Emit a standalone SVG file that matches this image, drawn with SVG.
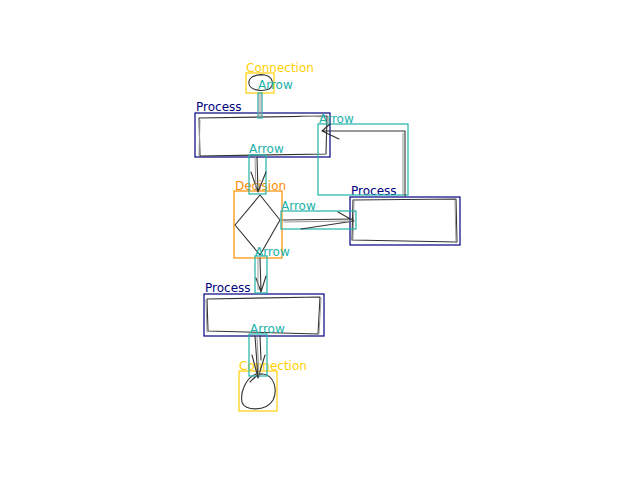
<svg xmlns="http://www.w3.org/2000/svg" width="640" height="480" viewBox="0 0 640 480">
<style>
.lbl{font-family:"DejaVu Sans",sans-serif;font-size:12px}
.proc{fill:none;stroke:#000080;stroke-width:1.2}
.dec{fill:none;stroke:#ff8c00;stroke-width:1.2}
.con{fill:none;stroke:#ffd000;stroke-width:1.2}
.arr{fill:none;stroke:#20b2aa;stroke-width:1.2}
.sk{fill:none;stroke:#333;stroke-width:1.1;stroke-linecap:round;stroke-linejoin:round}
.sk2{fill:none;stroke:#999;stroke-width:1;stroke-linecap:round}
</style>
<rect width="640" height="480" fill="#fff"/>
<g id="connection1">
<rect class="con" x="246" y="73" width="28" height="20"/>
<path class="sk" d="M264,75 C254,74 248,78 249,84 C250,90 262,92 269,89 C274,86 274,77 265,75 C261,74 256,75 252,77"/>
<text class="lbl" x="246" y="72" fill="#ffd000">Connection</text>
</g>
<g id="process1">
<rect class="proc" x="195" y="113" width="135" height="44"/>
<path class="sk" d="M199,118 L327,116 L326,154 L200,156 Z"/>
<path class="sk2" d="M200,120 L199,155 M300,116 L326,117"/>
<text class="lbl" x="196" y="111" fill="#000080">Process</text>
</g>
<g id="decision">
<rect class="dec" x="234" y="191" width="48" height="67"/>
<path class="sk" d="M260,195 L280,220 L260,255 L235,225 Z"/>
<text class="lbl" x="235" y="190" fill="#ff8c00">Decision</text>
</g>
<g id="process2">
<rect class="proc" x="350" y="197" width="110" height="48"/>
<path class="sk" d="M353,200 L456,199 L457,242 L352,240 Z"/>
<path class="sk2" d="M354,201 L353,239 M455,200 L456,243"/>
<text class="lbl" x="351" y="195" fill="#000080">Process</text>
</g>
<g id="process3">
<rect class="proc" x="204" y="294" width="120" height="42"/>
<path class="sk" d="M207,299 L320,297 L318,334 L208,331 Z"/>
<path class="sk2" d="M206,300 L207,332 M321,298 L319,334"/>
<text class="lbl" x="205" y="292" fill="#000080">Process</text>
</g>
<g id="connection2">
<rect class="con" x="239" y="371" width="38" height="40"/>
<path class="sk" d="M256,374 C246,378 240,392 242,402 C244,411 266,412 273,400 C278,390 274,375 263,374 C258,373 254,378 250,382"/>
<text class="lbl" x="239" y="370" fill="#ffd000">Connection</text>
</g>
<g id="connectors">
<rect class="arr" x="258" y="93" width="4" height="25"/>
<path class="sk2" d="M259,94 L259,117 M261,94 L261,117"/>
<text class="lbl" x="258" y="89" fill="#20b2aa">Arrow</text>
<rect class="arr" x="249" y="155" width="17" height="39"/>
<path class="sk" d="M257,157 L258,192 M251,172 L258,192 M266,172 L258,192"/>
<path class="sk2" d="M255,157 L256,190"/>
<text class="lbl" x="249" y="153" fill="#20b2aa">Arrow</text>
<rect class="arr" x="281" y="211" width="75" height="18"/>
<path class="sk" d="M283,220 L353,219 M338,212 L354,221 L301,229"/>
<path class="sk2" d="M284,222 L352,221"/>
<text class="lbl" x="281" y="210" fill="#20b2aa">Arrow</text>
<rect class="arr" x="318" y="124" width="90" height="71"/>
<path class="sk" d="M405,196 L405,131 L322,131 M339,139 L322,131 L330,124"/>
<path class="sk2" d="M403,195 L403,133"/>
<text class="lbl" x="319" y="123" fill="#20b2aa">Arrow</text>
<rect class="arr" x="255" y="256" width="12" height="37"/>
<path class="sk" d="M260,258 L261,292 M256,278 L261,292 L266,276"/>
<path class="sk2" d="M258,258 L258,290"/>
<text class="lbl" x="255" y="256" fill="#20b2aa">Arrow</text>
<rect class="arr" x="249" y="334" width="18" height="42"/>
<path class="sk" d="M255,336 L258,378 M252,355 L258,378 L265,355 M260,336 L261,360"/>
<path class="sk2" d="M257,337 L259,376"/>
<text class="lbl" x="250" y="333" fill="#20b2aa">Arrow</text>
</g>
</svg>
